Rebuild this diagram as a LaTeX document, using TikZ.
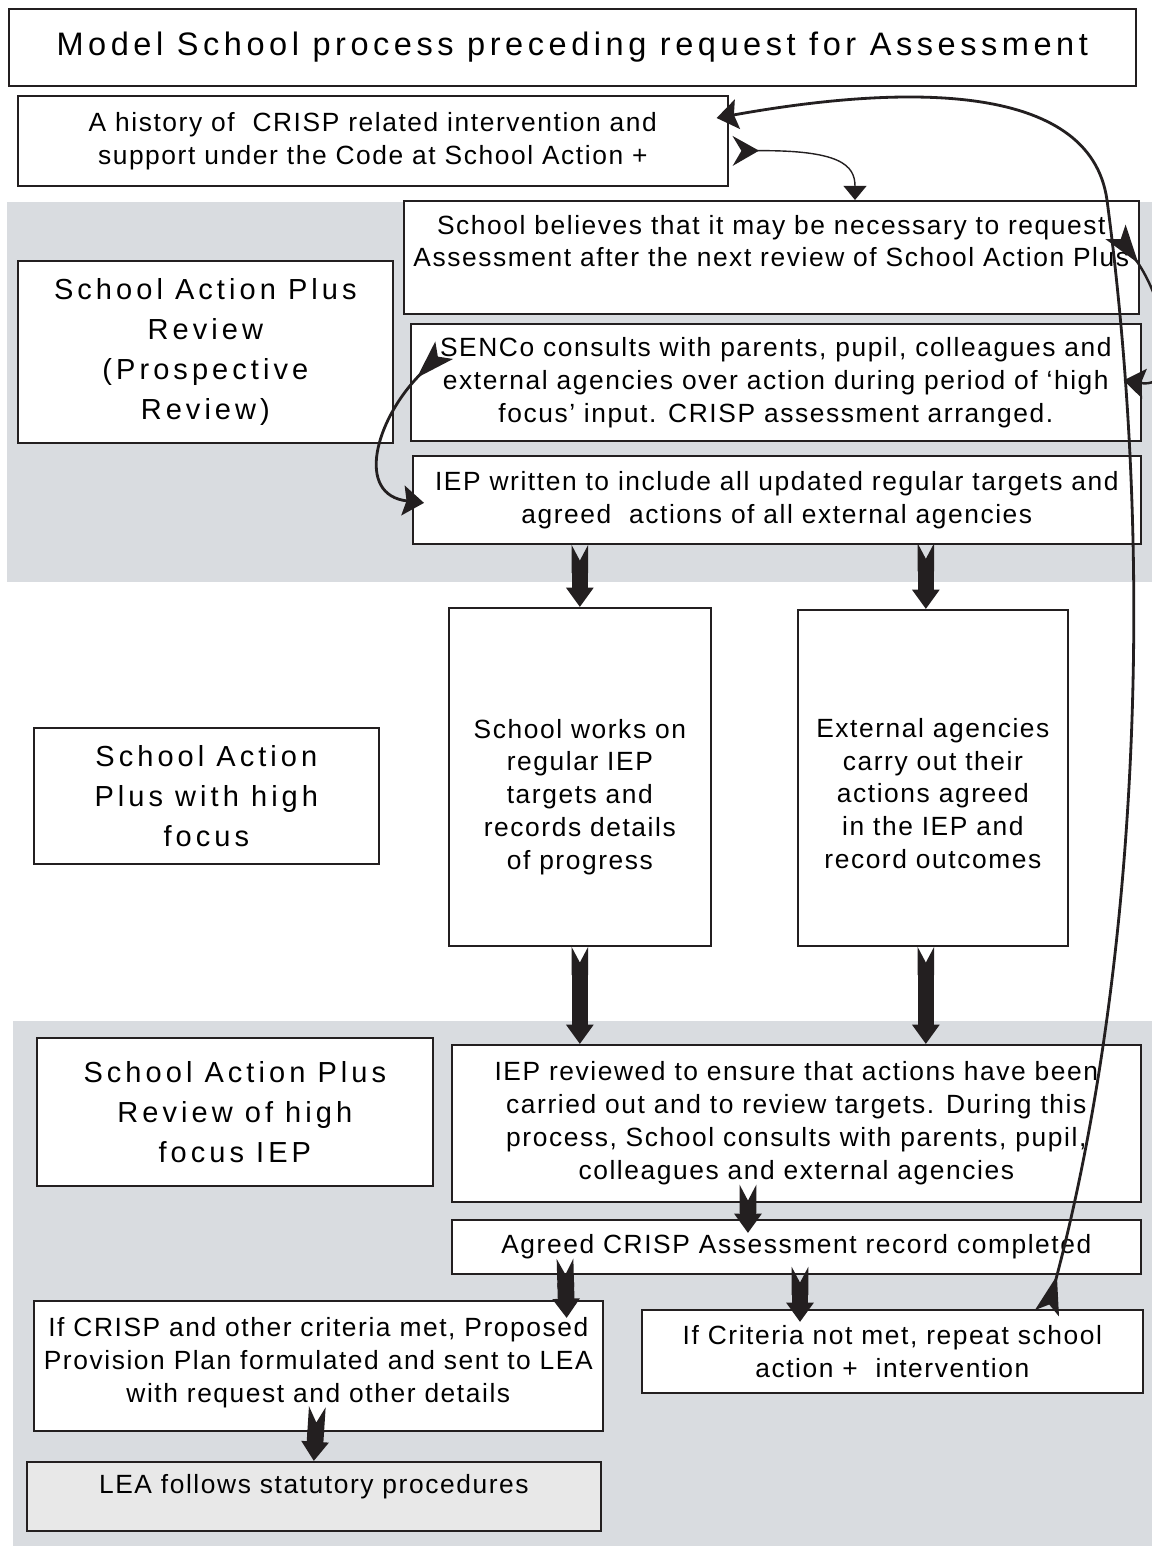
\documentclass[tikz,border=0pt]{standalone}
\usepackage{fontspec}
\setmainfont{Liberation Sans}
\newfontfamily\boxfont[LetterSpace=6]{Liberation Sans}
\newfontfamily\stagefont[LetterSpace=14]{Liberation Sans}
\usetikzlibrary{arrows.meta,calc}
\definecolor{ink}{HTML}{231F20}
\definecolor{band}{HTML}{D9DCE0}
\definecolor{leagray}{HTML}{E8E8E8}

\begin{document}
\begin{tikzpicture}[x=0.02cm, y=-0.02cm,
    box/.style={draw=ink, line width=1pt, fill=white, anchor=north west, align=center, inner sep=0pt,
        font=\boxfont\fontsize{15pt}{18.7pt}\selectfont},
    stage/.style={box, font=\stagefont\fontsize{16.5pt}{22.7pt}\selectfont},
    fat/.style={draw=ink, line width=9.5pt,
        arrows={Triangle Cap[reversed,length=9pt]-Triangle[length=11pt,width=15pt]}},
    curvy/.style={draw=ink, line width=1.6pt,
        arrows={Stealth[reversed,length=22pt,width=14pt,inset=5pt]-Stealth[length=12pt,width=17pt,inset=2pt]}}
]
    % 画布与背景
    \useasboundingbox (0,0) rectangle (1152,1546);
    \fill[white] (0,0) rectangle (1152,1546);

    % 两块灰色底带
    \fill[band] (7,202) rectangle (1152,582);
    \fill[band] (13,1021) rectangle (1152,1546);

    % 标题与起点
    \node[box, minimum width=22.54cm, minimum height=1.54cm, font=\stagefont\fontsize{18.5pt}{20pt}\selectfont]
        (title) at (8,8) {Model School process preceding request for Assessment};
    \node[box, minimum width=14.2cm, minimum height=1.8cm] (hist) at (17,95)
        {A history of \ CRISP related intervention and\\support under the Code at School Action +};

    % 第一阶段：前瞻性复查
    \node[stage, minimum width=7.5cm, minimum height=3.64cm] (prosp) at (17,260)
        {School Action Plus\\Review\\(Prospective\\Review)};
    \node[box, minimum width=14.7cm, minimum height=2.26cm] (believe) at (403,200)
        {School believes that it may be necessary to request\\Assessment after the next review of School Action Plus\\\mbox{}};
    \node[box, minimum width=14.6cm, minimum height=2.34cm] (senco) at (410,323)
        {SENCo consults with parents, pupil, colleagues and\\external agencies over action during period of ‘high\\focus’ input. CRISP assessment arranged.};
    \node[box, minimum width=14.56cm, minimum height=1.76cm] (iep) at (412,455)
        {IEP written to include all updated regular targets and\\agreed \ actions of all external agencies};

    % 第二阶段：高度关注
    \node[stage, minimum width=6.9cm, minimum height=2.72cm] (focus) at (33,727)
        {School Action\\Plus with high\\focus};
    \node[box, minimum width=5.24cm, minimum height=6.76cm] (works) at (448,607)
        {\mbox{}\\[15pt]School works on\\regular IEP\\targets and\\records details\\of progress};
    \node[box, minimum width=5.4cm, minimum height=6.72cm] (agencies) at (797,609)
        {\mbox{}\\[10pt]External agencies\\carry out their\\actions agreed\\in the IEP and\\record outcomes};

    % 第三阶段：复查
    \node[stage, minimum width=7.92cm, minimum height=2.96cm] (reviewlbl) at (36,1037)
        {School Action Plus\\Review of high\\focus IEP};
    \node[box, minimum width=13.78cm, minimum height=3.14cm] (reviewed) at (451,1044)
        {IEP reviewed to ensure that actions have been\\carried out and to review targets. During this\\process, School consults with parents, pupil,\\colleagues and external agencies};
    \node[box, minimum width=13.78cm, minimum height=1.08cm] (agreed) at (451,1219)
        {Agreed CRISP Assessment record completed};
    \node[box, minimum width=11.38cm, minimum height=2.6cm] (met) at (33,1300)
        {If CRISP and other criteria met, Proposed\\Provision Plan formulated and sent to LEA\\with request and other details\\[-12pt]\mbox{}};
    \node[box, minimum width=10.02cm, minimum height=1.66cm] (notmet) at (641,1309)
        {If Criteria not met, repeat school\\action + \ intervention};
    \node[box, fill=leagray, minimum width=11.48cm, minimum height=1.38cm] (lea) at (26,1461)
        {LEA follows statutory procedures\\[-4pt]\mbox{}};

    % 粗箭头
    \draw[fat] (works.north |- iep.south) -- (works.north);
    \draw[fat] ($(agencies.north)+(-7,-66)$) -- ($(agencies.north)+(-7,0)$);
    \draw[fat] (works.south) -- (works.south |- reviewed.north);
    \draw[fat] ($(agencies.south)+(-7,0)$) -- ($(agencies.north |- reviewed.north)+(-7,0)$);
    \draw[fat] ($(reviewed.south west)!.43!(reviewed.south east)+(0,-18)$)
        -- ($(agreed.north west)!.43!(agreed.north east)+(0,14)$);
    \draw[fat] ($(agreed.south west)+(114,-16)$) -- ($(met.north east)+(-37,18)$);
    \draw[fat] ($(agreed.south west)+(349,-8)$) -- ($(notmet.north west)+(159,13)$);
    \draw[fat] ($(met.south)+(-1,-25)$) -- (lea.north);

    % 细的弯箭头
    \draw[draw=ink, line width=0.8pt,
        arrows={Stealth[reversed,length=15pt,width=17pt,inset=5pt]-Triangle[length=8pt,width=13pt]}]
        ($(hist.east)+(4,10)$) .. controls (840,150) and (855,165) .. ($(believe.north west)+(452,0)$);
    \draw[curvy] ($(notmet.north west)+(406,4)$) .. controls (1130,1000) and (1160,600) .. (1107,200)
        .. controls (1090,80) and (900,85) .. ($(hist.north east)+(-12,23)$);
    \draw[curvy, line width=1.4pt] ($(believe.north east)+(-24,32)$) .. controls (1165,300) and (1185,390)
        .. ($(senco.east)+(-18,-2)$);
    \draw[curvy] ($(senco.west)+(34,-32)$) .. controls (375,420) and (355,495) .. ($(iep.west)+(12,3)$);
\end{tikzpicture}
\end{document}
